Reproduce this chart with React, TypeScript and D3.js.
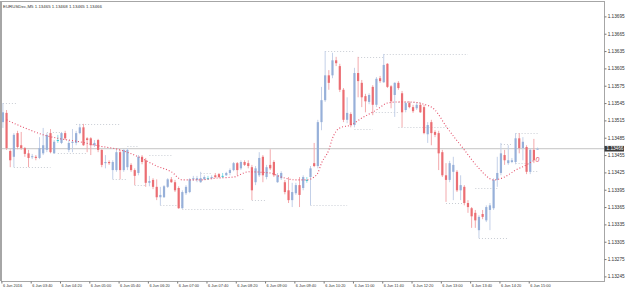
import React, { useEffect, useRef } from "react";
import * as d3 from "d3";

const W = 625;
const H = 291;

const chartTitle = "EURUSDec,M5  1.13465 1.13468 1.13465 1.13466";
const lastPrice = 1.13466;

// M5 bars from 03:00 to 15:10
const openP = [
  1.13512, 1.13528, 1.13462, 1.13452, 1.13493, 1.13472, 1.13467, 1.13458, 1.13452, 1.13452,
  1.1345, 1.13458, 1.13464, 1.13493, 1.13458, 1.13481, 1.13476, 1.13493, 1.13464, 1.13476,
  1.13476, 1.13493, 1.13503, 1.13484, 1.13484, 1.13472, 1.13481, 1.13464, 1.13441, 1.13443,
  1.13429, 1.13429, 1.1346, 1.13429, 1.13434, 1.13438, 1.13429, 1.13424, 1.13452, 1.13446,
  1.13407, 1.13412, 1.134, 1.13382, 1.13382, 1.134, 1.13413, 1.13408, 1.13398, 1.13363,
  1.13389, 1.13391, 1.13413, 1.13412, 1.13408, 1.13413, 1.13415, 1.13415, 1.1342, 1.13422,
  1.13419, 1.1342, 1.13424, 1.13429, 1.13441, 1.13432, 1.13443, 1.13441, 1.13434, 1.13408,
  1.1342, 1.13452, 1.13417, 1.13438, 1.13443, 1.13408, 1.13415, 1.13408, 1.13394, 1.13377,
  1.13389, 1.13403, 1.13398, 1.13412, 1.13417, 1.13441, 1.13436, 1.13512, 1.1355, 1.13593,
  1.13593, 1.13619, 1.13609, 1.13568, 1.13516, 1.13526, 1.13507, 1.13597, 1.1358, 1.13557,
  1.13547, 1.13573, 1.13542, 1.13588, 1.13581, 1.13613, 1.13574, 1.13559, 1.1358, 1.13562,
  1.13533, 1.13545, 1.13538, 1.13536, 1.13542, 1.13538, 1.13491, 1.13512, 1.13495, 1.13493,
  1.1346, 1.1342, 1.13412, 1.13426, 1.13426, 1.13394, 1.134, 1.13372, 1.13363, 1.13355,
  1.13325, 1.13353, 1.13342, 1.1336, 1.13363, 1.13412, 1.13424, 1.13455, 1.13441, 1.13443,
  1.13443, 1.13484, 1.13467, 1.13469, 1.13426, 1.13464, 1.13465,
];
const highP = [
  1.13545, 1.13533, 1.13465, 1.13493, 1.13497, 1.13495, 1.13469, 1.13464, 1.13457, 1.13455,
  1.13486, 1.13502, 1.13493, 1.135, 1.13481, 1.1349, 1.13495, 1.13497, 1.13481, 1.135,
  1.13497, 1.13509, 1.13509, 1.13486, 1.13486, 1.13481, 1.13483, 1.13465, 1.13455, 1.13446,
  1.13446, 1.13464, 1.13464, 1.13465, 1.13467, 1.13441, 1.13432, 1.13455, 1.13455, 1.1345,
  1.13419, 1.13415, 1.13413, 1.134, 1.13403, 1.13415, 1.13417, 1.13412, 1.13401, 1.13394,
  1.13403, 1.13415, 1.13419, 1.13419, 1.13426, 1.1342, 1.13419, 1.1342, 1.13424, 1.13424,
  1.13424, 1.13426, 1.13432, 1.13443, 1.13443, 1.13446, 1.13446, 1.13446, 1.13438, 1.13436,
  1.1346, 1.13455, 1.13438, 1.13465, 1.13446, 1.13424, 1.13427, 1.13412, 1.13417, 1.13407,
  1.13407, 1.13417, 1.1342, 1.13417, 1.13436, 1.13476, 1.13516, 1.13573, 1.13635, 1.13602,
  1.13632, 1.13625, 1.13613, 1.13571, 1.13555, 1.13529, 1.13606, 1.13625, 1.13585, 1.13561,
  1.13562, 1.13576, 1.1359, 1.13592, 1.1363, 1.13614, 1.13576, 1.13581, 1.13583, 1.13566,
  1.13547, 1.13548, 1.13542, 1.13545, 1.13545, 1.13542, 1.13512, 1.13516, 1.13498, 1.13497,
  1.13464, 1.13441, 1.13445, 1.13452, 1.13429, 1.1342, 1.13403, 1.13377, 1.13365, 1.1336,
  1.13351, 1.1336, 1.13368, 1.13372, 1.13415, 1.13452, 1.13476, 1.13464, 1.13472, 1.1345,
  1.13493, 1.13493, 1.13486, 1.13472, 1.13467, 1.13483, 1.13468,
];
const lowP = [
  1.13502, 1.13464, 1.13434, 1.13434, 1.13465, 1.13464, 1.13452, 1.13434, 1.13448, 1.13446,
  1.13448, 1.13455, 1.1346, 1.13458, 1.13457, 1.13476, 1.13474, 1.13481, 1.1346, 1.1346,
  1.13472, 1.13491, 1.13471, 1.1346, 1.13455, 1.13469, 1.1346, 1.13434, 1.13432, 1.13438,
  1.13413, 1.13426, 1.13413, 1.13426, 1.13429, 1.13426, 1.13403, 1.1342, 1.13439, 1.134,
  1.13401, 1.13396, 1.13377, 1.13368, 1.13381, 1.13398, 1.13407, 1.13391, 1.13362, 1.13362,
  1.13386, 1.13389, 1.1341, 1.13408, 1.13407, 1.13412, 1.13412, 1.13413, 1.13415, 1.13415,
  1.13415, 1.13419, 1.1342, 1.13427, 1.1342, 1.13429, 1.13436, 1.13432, 1.13377, 1.13403,
  1.13417, 1.13408, 1.13413, 1.13429, 1.13417, 1.13407, 1.13412, 1.13387, 1.13372, 1.13365,
  1.13386, 1.13365, 1.13394, 1.13407, 1.13368, 1.13434, 1.13432, 1.13498, 1.13547, 1.13568,
  1.13588, 1.13609, 1.13564, 1.13512, 1.1351, 1.13503, 1.13503, 1.13555, 1.13538, 1.13529,
  1.13543, 1.13524, 1.13538, 1.1358, 1.1358, 1.13571, 1.13536, 1.13521, 1.13568, 1.13503,
  1.13529, 1.13536, 1.13528, 1.13533, 1.13528, 1.13491, 1.13476, 1.13472, 1.13486, 1.13429,
  1.13417, 1.13374, 1.13408, 1.13377, 1.13391, 1.13377, 1.13368, 1.13355, 1.13329, 1.13329,
  1.13311, 1.13344, 1.13339, 1.13325, 1.1336, 1.134, 1.1342, 1.13438, 1.13438, 1.13441,
  1.13439, 1.13458, 1.13446, 1.13422, 1.13422, 1.13441, 1.13465,
];
const closeP = [
  1.13529, 1.13467, 1.13446, 1.1349, 1.13469, 1.13467, 1.13457, 1.1345, 1.13453, 1.1345,
  1.13467, 1.13472, 1.1349, 1.1346, 1.13478, 1.13481, 1.13493, 1.13484, 1.13476, 1.13478,
  1.13493, 1.13503, 1.13472, 1.13481, 1.13472, 1.13476, 1.13464, 1.13438, 1.13443, 1.13441,
  1.13443, 1.1346, 1.13429, 1.13464, 1.13464, 1.13429, 1.13419, 1.13452, 1.13443, 1.13407,
  1.1341, 1.134, 1.13382, 1.13386, 1.13401, 1.13413, 1.13408, 1.13394, 1.13363, 1.13391,
  1.134, 1.13413, 1.13415, 1.13415, 1.13415, 1.13417, 1.13415, 1.13417, 1.13417, 1.13417,
  1.13419, 1.13424, 1.13429, 1.13441, 1.13429, 1.13443, 1.13438, 1.13436, 1.13394, 1.13432,
  1.1345, 1.1342, 1.13434, 1.13432, 1.1342, 1.1342, 1.13424, 1.13391, 1.13377, 1.13391,
  1.13403, 1.13386, 1.13417, 1.13412, 1.13432, 1.13436, 1.13512, 1.1355, 1.13593, 1.1358,
  1.13619, 1.13614, 1.13568, 1.13516, 1.13528, 1.13507, 1.13597, 1.13583, 1.13555, 1.13548,
  1.13559, 1.13542, 1.13587, 1.13583, 1.13611, 1.13573, 1.13548, 1.1358, 1.13571, 1.13529,
  1.13545, 1.13538, 1.13531, 1.13542, 1.13529, 1.13493, 1.13507, 1.13493, 1.1349, 1.13458,
  1.1342, 1.13412, 1.13441, 1.13438, 1.13394, 1.13403, 1.13372, 1.13365, 1.13349, 1.13342,
  1.13348, 1.13348, 1.13365, 1.13368, 1.13412, 1.13424, 1.13458, 1.13446, 1.13446, 1.13446,
  1.13484, 1.13467, 1.13478, 1.13426, 1.13464, 1.13446, 1.13466,
];

// dotted support / resistance segments
const levelStart = [0, 3, 12, 15, 20, 30, 34, 36, 40, 43, 49, 54, 68, 84, 88, 97, 104, 96, 101, 108, 108, 121, 129, 130, 136, 140, 140, 144];
const levelEnd = [4, 13, 16, 23, 32, 34, 37, 39, 46, 49, 66, 57, 72, 94, 96, 104, 127, 101, 108, 114, 122, 126, 135, 138, 139, 146, 144, 146];
const levelPrice = [
  1.13545, 1.13434, 1.13495, 1.13458, 1.13509, 1.13413, 1.13471, 1.13403, 1.13455, 1.13368,
  1.13362, 1.13424, 1.13377, 1.13368, 1.13635, 1.13625, 1.1363, 1.135, 1.13529, 1.13547,
  1.13503, 1.13372, 1.13398, 1.13311, 1.13474, 1.13493, 1.13441, 1.13427,
];

// moving average (red dotted)
const maBar = [1, 3, 6, 11, 15, 21, 26, 32, 37, 42, 46, 49, 54, 58, 63, 67, 73, 76, 80, 83, 85, 86, 87, 89, 90, 92, 95, 98, 102, 105, 108, 111, 115, 118, 121, 126, 130, 134, 137, 140, 143, 145];
const maValue = [
  1.13516, 1.1351, 1.13502, 1.1349, 1.13484, 1.13478, 1.13471, 1.13464, 1.13452, 1.13436,
  1.13426, 1.13412, 1.13412, 1.13415, 1.13417, 1.13426, 1.13424, 1.13417, 1.13412, 1.13412,
  1.13417, 1.13424, 1.13441, 1.13464, 1.13484, 1.13502, 1.13507, 1.13519, 1.13533, 1.13545,
  1.13547, 1.13547, 1.13543, 1.13533, 1.13505, 1.13464, 1.13432, 1.13412, 1.13417, 1.13429,
  1.13438, 1.13446,
];

const priceTicks = [
  1.13695, 1.13665, 1.13635, 1.13605, 1.13575, 1.13545, 1.13515, 1.13485,
  1.13455, 1.13425, 1.13395, 1.13365, 1.13335, 1.13305, 1.13275, 1.13245,
];
const timeBars = [0, 8, 16, 24, 32, 40, 48, 56, 64, 72, 80, 88, 96, 104, 112, 120, 128, 136, 144];
const timeLabels = [
  "6 Jun 2016", "6 Jun 03:40", "6 Jun 04:20", "6 Jun 05:00", "6 Jun 05:40",
  "6 Jun 06:20", "6 Jun 07:00", "6 Jun 07:40", "6 Jun 08:20", "6 Jun 09:00",
  "6 Jun 09:40", "6 Jun 10:20", "6 Jun 11:00", "6 Jun 11:40", "6 Jun 12:20",
  "6 Jun 13:00", "6 Jun 13:40", "6 Jun 14:20", "6 Jun 15:00",
];

const frame = { left: 1, top: 1, right: 604, bottom: 281 };
const font = "'Liberation Sans', Arial, sans-serif";

const draw = (el: SVGSVGElement) => {
  const svg = d3.select(el);
  svg.selectAll("*").remove();

  const x = d3.scaleLinear().domain([0, 146]).range([2.9, 2.9 + 146 * 3.662]);
  const y = d3.scaleLinear().domain([1.13245, 1.13695]).range([276.4, 16.4]);

  svg.append("rect").attr("width", W).attr("height", H).attr("fill", "#fff");

  svg
    .append("clipPath")
    .attr("id", "plot")
    .append("rect")
    .attr("x", frame.left + 1)
    .attr("y", frame.top)
    .attr("width", frame.right - frame.left - 1)
    .attr("height", frame.bottom - frame.top);

  const plot = svg.append("g").attr("clip-path", "url(#plot)");

  // current price line
  plot
    .append("line")
    .attr("x1", frame.left)
    .attr("x2", frame.right)
    .attr("y1", y(lastPrice))
    .attr("y2", y(lastPrice))
    .attr("stroke", "#c4c4c4")
    .attr("stroke-width", 1);

  // dotted levels
  plot
    .selectAll(".lvl")
    .data(levelPrice)
    .enter()
    .append("line")
    .attr("x1", (d, i) => x(levelStart[i]))
    .attr("x2", (d, i) => x(levelEnd[i]))
    .attr("y1", d => Math.round(y(d)) + 0.5)
    .attr("y2", d => Math.round(y(d)) + 0.5)
    .attr("stroke", "#c9cdd4")
    .attr("stroke-width", 1)
    .attr("stroke-dasharray", "1 2");

  // candles
  const idx = d3.range(openP.length);
  const colorOf = (i: number) =>
    closeP[i] > openP[i] ? "#97b0d9" : closeP[i] < openP[i] ? "#eb6e73" : "#3cc9d6";
  const wickOf = (i: number) =>
    closeP[i] > openP[i] ? "#c3d0e8" : closeP[i] < openP[i] ? "#f3a9ac" : "#8fe0e8";

  plot
    .selectAll(".wick")
    .data(idx)
    .enter()
    .append("line")
    .attr("x1", i => x(i))
    .attr("x2", i => x(i))
    .attr("y1", i => y(highP[i]))
    .attr("y2", i => y(lowP[i]))
    .attr("stroke", i => wickOf(i))
    .attr("stroke-width", 1);

  plot
    .selectAll(".body")
    .data(idx)
    .enter()
    .append("rect")
    .attr("x", i => x(i) - 1.1)
    .attr("width", 2.2)
    .attr("y", i => y(Math.max(openP[i], closeP[i])))
    .attr("height", i => Math.max(1, Math.abs(y(openP[i]) - y(closeP[i]))))
    .attr("fill", i => colorOf(i));

  // moving average
  const ma = d3
    .line<number>()
    .x(i => x(maBar[i]))
    .y(i => y(maValue[i]))
    .curve(d3.curveMonotoneX);
  plot
    .append("path")
    .attr("d", ma(d3.range(maBar.length)))
    .attr("fill", "none")
    .attr("stroke", "#e4506a")
    .attr("stroke-width", 1.1)
    .attr("stroke-dasharray", "1 2");

  plot
    .append("text")
    .attr("x", x(146) - 2)
    .attr("y", y(1.13446) + 2)
    .attr("font-family", font)
    .attr("font-size", 7)
    .attr("font-style", "italic")
    .attr("fill", "#e4506a")
    .text("0");

  // frame
  svg
    .append("rect")
    .attr("x", frame.left + 0.5)
    .attr("y", frame.top + 0.5)
    .attr("width", frame.right - frame.left)
    .attr("height", frame.bottom - frame.top)
    .attr("fill", "none")
    .attr("stroke", "#a6a6a6");
  svg
    .append("line")
    .attr("x1", 1)
    .attr("x2", 1)
    .attr("y1", frame.top)
    .attr("y2", frame.bottom)
    .attr("stroke", "#a6a6a6")
    .attr("stroke-width", 2);

  // price axis
  const yAxis = svg
    .append("g")
    .attr("transform", `translate(${frame.right + 0.5},0)`)
    .call(
      d3
        .axisRight(y)
        .tickValues(priceTicks)
        .tickFormat(d3.format(".5f"))
        .tickSize(2)
        .tickPadding(1.2)
    );
  yAxis.select(".domain").remove();
  yAxis.selectAll("line").attr("stroke", "#777");
  yAxis
    .selectAll("text")
    .attr("font-family", font)
    .attr("font-size", 4.7)
    .attr("fill", "#333");

  // last price tag
  const tag = svg.append("g").attr("transform", `translate(${frame.right + 0.5},${y(lastPrice)})`);
  tag.append("rect").attr("x", 0).attr("y", -2.8).attr("width", 19.5).attr("height", 5.6).attr("fill", "#3a3a3a");
  tag
    .append("text")
    .attr("x", 2)
    .attr("y", 1.7)
    .attr("font-family", font)
    .attr("font-size", 4.7)
    .attr("fill", "#fff")
    .text(d3.format(".5f")(lastPrice));

  // time axis
  const xAxis = svg
    .append("g")
    .attr("transform", `translate(-1.5,${frame.bottom + 0.5})`)
    .call(
      d3
        .axisBottom(x)
        .tickValues(timeBars)
        .tickFormat((d, i) => timeLabels[i])
        .tickSize(2)
    );
  xAxis.select(".domain").remove();
  xAxis.selectAll("line").attr("stroke", "#777");
  xAxis
    .selectAll("text")
    .attr("font-family", font)
    .attr("font-size", 3.9)
    .attr("fill", "#333")
    .attr("text-anchor", "start")
    .attr("x", 1)
    .attr("y", 3)
    .attr("dy", "0.71em");

  // title
  svg
    .append("text")
    .attr("x", 3)
    .attr("y", 7.5)
    .attr("font-family", font)
    .attr("font-size", 4.4)
    .attr("fill", "#333")
    .text(chartTitle);
};

const App = () => {
  const ref = useRef<SVGSVGElement>(null);
  useEffect(() => {
    if (ref.current) draw(ref.current);
  }, []);
  return (
    <svg
      ref={ref}
      width={W}
      height={H}
      style={{ position: "absolute", left: 0, top: 0, display: "block" }}
    />
  );
};

export default App;
